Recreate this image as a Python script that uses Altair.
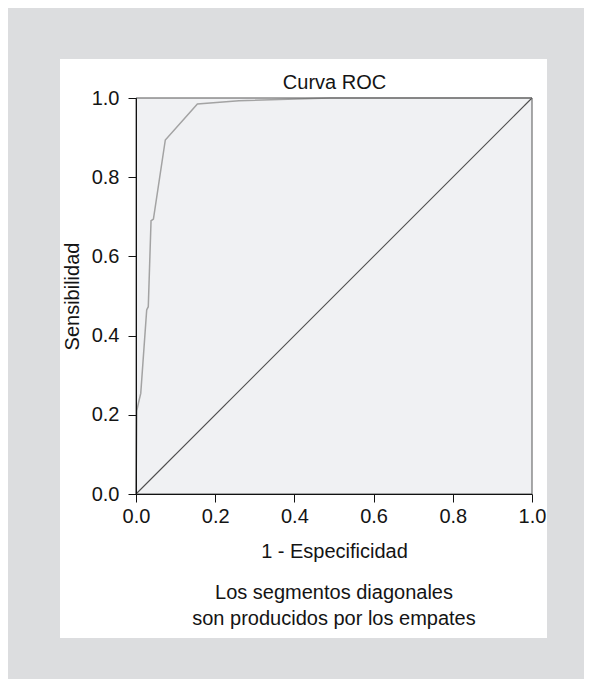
import altair as alt
import pandas as pd

# ROC curve
fpr = [0.0, 0.002, 0.006, 0.012, 0.027, 0.031, 0.038, 0.044, 0.074, 0.155, 0.26, 0.49, 1.0]
tpr = [0.0, 0.21, 0.229, 0.254, 0.465, 0.473, 0.690, 0.694, 0.894, 0.985, 0.993, 1.0, 1.0]
diag = [0.0, 1.0]
ticks = [0.0, 0.2, 0.4, 0.6, 0.8, 1.0]
title_top = "Curva ROC"
x_title = "1 - Especificidad"
y_title = "Sensibilidad"
footnote = ["Los segmentos diagonales", "son producidos por los empates"]

W = 396
H = 396
FONT = "Liberation Sans"
FS = 20
TXT = "#141414"

roc = pd.DataFrame({"x": fpr, "y": tpr, "o": list(range(len(fpr)))})
dg = pd.DataFrame({"x": diag, "y": diag})
one = pd.DataFrame({"a": [0]})

xs = alt.Scale(domain=[0, 1], nice=False, zero=False)
ys = alt.Scale(domain=[0, 1], nice=False, zero=False)

panel = alt.Chart(one).mark_rect(fill="white").encode(
    x=alt.value(-76), x2=alt.value(411), y=alt.value(-39), y2=alt.value(540)
)
plotbg = alt.Chart(one).mark_rect(fill="#f0f1f3").encode(
    x=alt.value(0), x2=alt.value(W), y=alt.value(0), y2=alt.value(H)
)

diag_line = alt.Chart(dg).mark_line(color="#4d4d4d", strokeWidth=1.1).encode(
    x=alt.X("x:Q", scale=xs, axis=alt.Axis(orient="top", title=title_top, labels=False,
                                           ticks=False, domain=False, grid=False,
                                           titleFontSize=FS, titleFont=FONT, titleFontWeight="normal",
                                           titleColor=TXT, titlePadding=6, zindex=1)),
    y=alt.Y("y:Q", scale=ys),
)

roc_line = alt.Chart(roc).mark_line(color="#a3a3a3", strokeWidth=1.5).encode(
    x=alt.X("x:Q", scale=xs, axis=alt.Axis(orient="bottom", values=ticks, format=".1f",
                                           title=x_title, tickSize=8, labelPadding=4,
                                           labelFontSize=FS, labelFont=FONT, labelColor=TXT,
                                           titleFontSize=FS, titleFont=FONT, titleFontWeight="normal",
                                           titleColor=TXT, titlePadding=15,
                                           domainColor="#111111", tickColor="#111111",
                                           labelFlush=False, labelOverlap=False, labelBound=False,
                                           grid=False, zindex=1)),
    y=alt.Y("y:Q", scale=ys, axis=alt.Axis(orient="left", values=ticks, format=".1f",
                                           title=y_title, tickSize=8, labelPadding=9,
                                           labelFontSize=FS, labelFont=FONT, labelColor=TXT,
                                           titleFontSize=FS, titleFont=FONT, titleFontWeight="normal",
                                           titleColor=TXT, titlePadding=9,
                                           domainColor="#111111", tickColor="#111111",
                                           labelFlush=False, labelOverlap=False, labelBound=False,
                                           grid=False, zindex=1)),
    order="o:Q",
)

frame = alt.Chart(one).mark_rect(fillOpacity=0, stroke="#555555", strokeWidth=1).encode(
    x=alt.value(0), x2=alt.value(W), y=alt.value(0), y2=alt.value(H)
)

chart = alt.layer(panel, plotbg, diag_line, roc_line, frame).properties(
    width=W,
    height=H,
    autosize=alt.AutoSizeParams(type="none"),
    padding={"left": 128, "top": 90, "right": 52, "bottom": 185},
    background="#dcdddf",
    title=alt.TitleParams(text=footnote, orient="bottom", anchor="middle", frame="group",
                          fontSize=FS, font=FONT, fontWeight="normal", color=TXT,
                          lineHeight=26, offset=-55),
).configure_view(stroke=None)

chart.save("out.html", embed_options={"renderer": "svg", "actions": False})
